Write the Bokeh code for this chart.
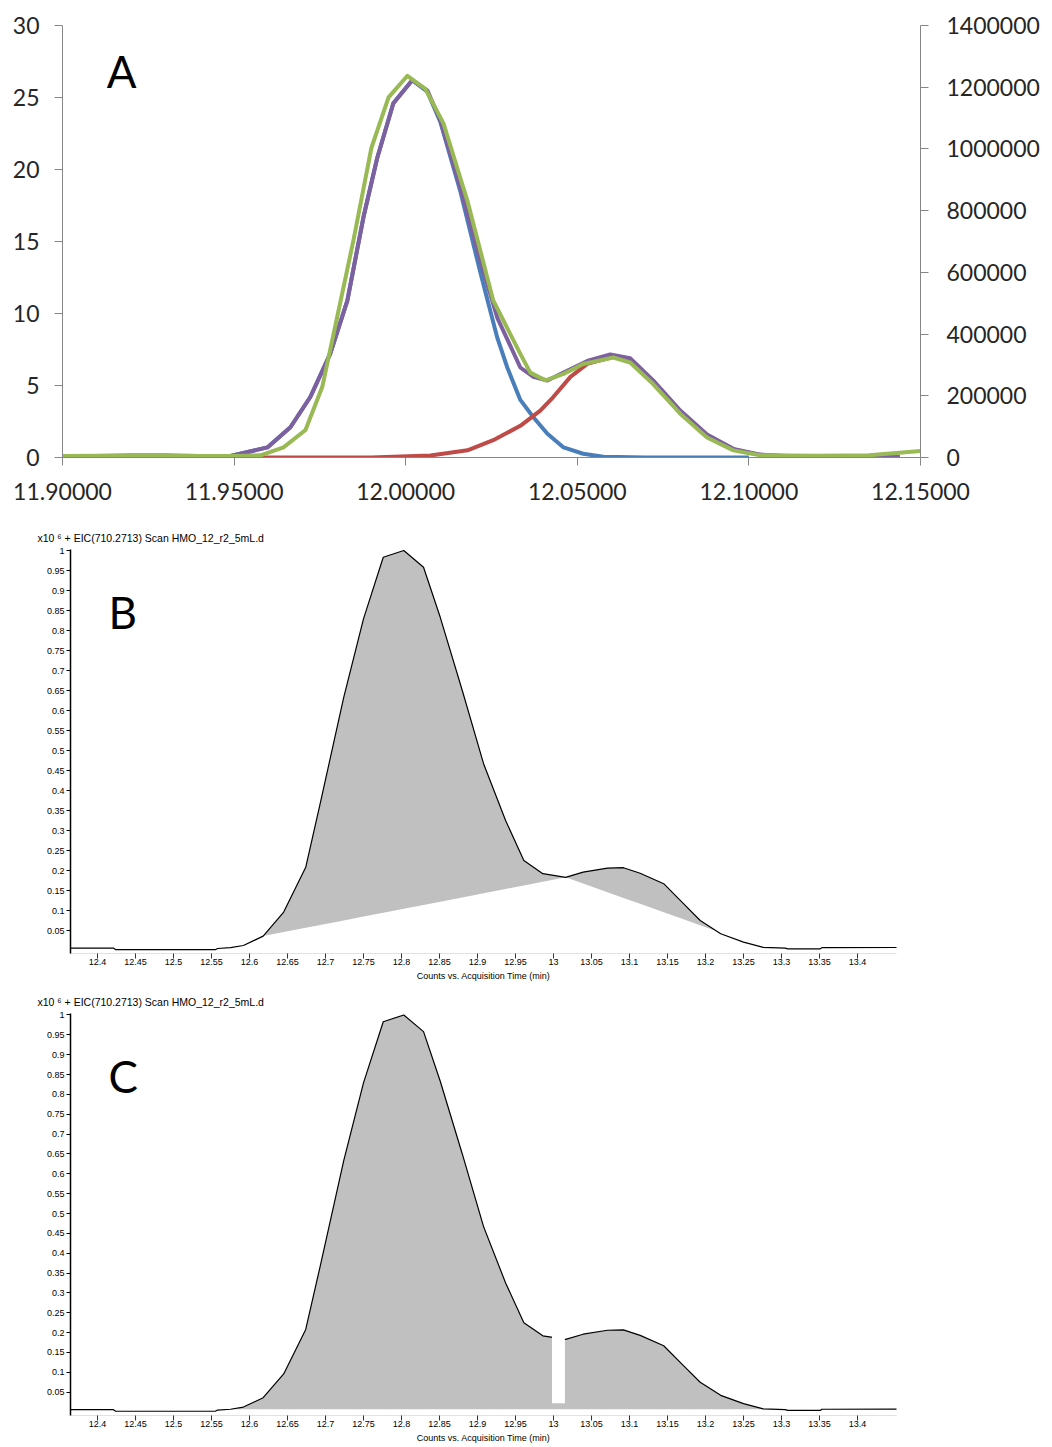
import numpy as np
from bokeh.plotting import figure
from bokeh.models import Range1d, LinearAxis, FixedTicker, NumeralTickFormatter, Label, Title
from bokeh.layouts import column
from bokeh.embed import file_html
from bokeh.resources import INLINE

# ---------------- Panel A data ----------------
a_x_ticks = [11.90, 11.95, 12.00, 12.05, 12.10, 12.15]
a_left_ticks = [0, 5, 10, 15, 20, 25, 30]
a_right_ticks = [0, 200000, 400000, 600000, 800000, 1000000, 1200000, 1400000]

blue_t = [11.948, 11.9518, 11.9597, 11.9664, 11.9722, 11.978, 11.983, 11.9877, 11.9917, 11.9964,
          12.0019, 12.0063, 12.0101, 12.0159, 12.0217, 12.0267, 12.0296, 12.0334, 12.0372, 12.0413,
          12.046, 12.0517, 12.0576, 12.07, 12.10]
blue_v = [0.05, 0.26, 0.7, 2.1, 4.2, 7.2, 10.9, 16.7, 20.8, 24.6,
          26.2, 25.4, 23.3, 18.5, 12.9, 8.3, 6.25, 4.0, 2.8, 1.65,
          0.7, 0.26, 0.05, 0.0, 0.0]

red_t = [11.958, 11.990, 12.0072, 12.018, 12.0255, 12.0334, 12.0392, 12.043, 12.048, 12.0529,
         12.0605, 12.0654, 12.0721, 12.080, 12.0878, 12.0955, 12.1033, 12.115, 12.13]
red_v = [0.0, 0.0, 0.14, 0.5, 1.2, 2.2, 3.26, 4.2, 5.6, 6.5,
         7.0, 6.75, 5.3, 3.2, 1.55, 0.55, 0.18, 0.04, 0.0]

purple_t = [11.948, 11.9518, 11.9597, 11.9664, 11.9722, 11.978, 11.983, 11.9877, 11.9917, 11.9964,
            12.0019, 12.0063, 12.0101, 12.0159, 12.0217, 12.0267, 12.0334, 12.0372, 12.0413, 12.046,
            12.0529, 12.0596, 12.0654, 12.0721, 12.080, 12.0878, 12.0955, 12.1033, 12.115, 12.13, 12.144]
purple_v = [0.05, 0.26, 0.7, 2.1, 4.2, 7.2, 10.9, 16.7, 20.8, 24.6,
            26.2, 25.5, 23.4, 18.75, 13.7, 9.7, 6.25, 5.6, 5.35, 5.9,
            6.7, 7.15, 6.9, 5.35, 3.26, 1.6, 0.6, 0.2, 0.06, 0.05, 0.05]

green_t = [11.900, 11.910, 11.920, 11.930, 11.940, 11.950, 11.9577, 11.9644, 11.9708, 11.9757,
           11.979, 11.9848, 11.990, 11.995, 12.0005, 12.0057, 12.011, 12.018, 12.0255, 12.0334,
           12.0363, 12.0407, 12.046, 12.0517, 12.0605, 12.0654, 12.0721, 12.080, 12.0878, 12.0955,
           12.1033, 12.12, 12.135, 12.15]
green_counts = [5000, 6000, 8000, 8000, 5000, 5000, 7000, 33000, 89000, 229000,
                401000, 705000, 1003000, 1167000, 1237000, 1195000, 1083000, 831000, 509000, 336000,
                275000, 250000, 271000, 303000, 324000, 308000, 238000, 142000, 65000, 23000,
                7000, 6000, 7000, 21000]

# ---------------- Panels B / C data (x10^6 counts) ----------------
bc_x_ticks = [12.4, 12.45, 12.5, 12.55, 12.6, 12.65, 12.7, 12.75, 12.8, 12.85, 12.9, 12.95,
              13.0, 13.05, 13.1, 13.15, 13.2, 13.25, 13.3, 13.35, 13.4]
bc_y_ticks = [0.05, 0.1, 0.15, 0.2, 0.25, 0.3, 0.35, 0.4, 0.45, 0.5, 0.55, 0.6, 0.65, 0.7,
              0.75, 0.8, 0.85, 0.9, 0.95, 1.0]

eic_t = [12.3645, 12.421, 12.424, 12.555, 12.558, 12.575, 12.592, 12.618, 12.645, 12.674,
         12.693, 12.724, 12.750, 12.776, 12.803, 12.829, 12.851, 12.880, 12.908, 12.937,
         12.961, 12.986, 13.016, 13.039, 13.071, 13.092, 13.114, 13.145, 13.171, 13.193,
         13.220, 13.250, 13.276, 13.305, 13.308, 13.351, 13.353, 13.453]
eic_v = [0.006, 0.006, 0.002, 0.002, 0.005, 0.007, 0.0125, 0.036, 0.096, 0.208,
         0.367, 0.633, 0.829, 0.983, 1.0, 0.958, 0.833, 0.65, 0.467, 0.325,
         0.225, 0.192, 0.183, 0.196, 0.206, 0.207, 0.193, 0.167, 0.117, 0.075,
         0.042, 0.021, 0.008, 0.006, 0.004, 0.004, 0.007, 0.0075]

# integration baselines in panel B (start / end times)
b_peak1 = [12.618, 13.016]
b_peak2 = [13.016, 13.215]
# panel C: integrated area and split between peaks
c_fill = [12.575, 13.276]
c_floor = 0.007
c_split = [12.998, 13.015]
c_split_floor = 0.022

title_text = "x10 \u2076  + EIC(710.2713) Scan HMO_12_r2_5mL.d"
x_title = "Counts vs. Acquisition Time (min)"

# ---------------- Panel A ----------------
AX = "#868686"
TXT = "#262626"
pa = figure(width=1048, height=515, x_range=Range1d(11.90, 12.15), y_range=Range1d(0, 30),
            output_backend="svg", toolbar_location=None, frame_align=False,
            min_border_left=62, min_border_right=128, min_border_top=25, min_border_bottom=58)
pa.extra_y_ranges = {"counts": Range1d(0, 1400000)}
pa.add_layout(LinearAxis(y_range_name="counts"), "right")
pa.xgrid.visible = False
pa.ygrid.visible = False
pa.outline_line_color = None
for ax in pa.axis:
    ax.axis_line_color = AX
    ax.axis_line_width = 1
    ax.major_tick_line_color = AX
    ax.major_tick_in = 0
    ax.major_tick_out = 8
    ax.minor_tick_line_color = None
    ax.major_label_text_font = "Lato"
    ax.major_label_text_font_size = "23px"
    ax.major_label_text_color = TXT
pa.xaxis.ticker = FixedTicker(ticks=a_x_ticks)
pa.xaxis.formatter = NumeralTickFormatter(format="0.00000")
pa.xaxis.major_label_standoff = 17
pa.yaxis[0].ticker = FixedTicker(ticks=a_left_ticks)
pa.yaxis[0].formatter = NumeralTickFormatter(format="0")
pa.yaxis[0].major_label_standoff = 15
pa.yaxis[1].ticker = FixedTicker(ticks=a_right_ticks)
pa.yaxis[1].formatter = NumeralTickFormatter(format="0")
pa.yaxis[1].major_label_standoff = 18

lw = 4
pa.line(blue_t, blue_v, line_color="#4A7EBB", line_width=lw, line_join="round")
pa.line(red_t, red_v, line_color="#BE4B48", line_width=lw, line_join="round")
pa.line(purple_t, purple_v, line_color="#7D60A0", line_width=lw, line_join="round")
pa.line(green_t, green_counts, line_color="#98B954", line_width=lw, line_join="round",
        y_range_name="counts")
pa.add_layout(Label(x=11.9129, y=26.85, text="A", text_font="Lato", text_font_size="44px",
                    text_color="black", text_baseline="middle", text_align="left"))


# ---------------- Panels B and C ----------------
def eic_figure(y0, y1, top, plot_h, bottom):
    p = figure(width=906, height=top + plot_h + bottom,
               x_range=Range1d(12.3645, 13.4513), y_range=Range1d(y0, y1),
               output_backend="svg", toolbar_location=None, frame_align=False,
               min_border_left=70, min_border_right=10, min_border_top=top, min_border_bottom=bottom)
    p.xgrid.visible = False
    p.ygrid.visible = False
    p.outline_line_color = None
    p.background_fill_color = "white"
    p.add_layout(Title(text=title_text, align="left", offset=-33, standoff=12,
                       text_font="Liberation Sans", text_font_size="10.5px",
                       text_font_style="normal", text_color="black"), "above")
    xa = p.xaxis[0]
    xa.ticker = FixedTicker(ticks=bc_x_ticks)
    xa.formatter = NumeralTickFormatter(format="0.[00]")
    xa.axis_line_color = "#e2e2e2"
    xa.major_tick_line_color = "#333333"
    xa.major_tick_in = 0
    xa.major_tick_out = 5
    xa.minor_tick_line_color = None
    xa.major_label_standoff = 0
    xa.major_label_text_font = "Liberation Sans"
    xa.major_label_text_font_size = "9px"
    xa.major_label_text_color = "black"
    xa.axis_label = x_title
    xa.axis_label_text_font = "Liberation Sans"
    xa.axis_label_text_font_size = "9px"
    xa.axis_label_text_font_style = "normal"
    xa.axis_label_text_color = "black"
    xa.axis_label_standoff = 3
    ya = p.yaxis[0]
    ya.ticker = FixedTicker(ticks=bc_y_ticks)
    ya.formatter = NumeralTickFormatter(format="0.[00]")
    ya.axis_line_color = "black"
    ya.axis_line_width = 1.5
    ya.major_tick_line_color = "black"
    ya.major_tick_in = 0
    ya.major_tick_out = 4
    ya.minor_tick_line_color = None
    ya.major_label_standoff = 2
    ya.major_label_text_font = "Liberation Sans"
    ya.major_label_text_font_size = "9px"
    ya.major_label_text_color = "black"
    return p


et = np.array(eic_t)
ev = np.array(eic_v)


def span_pts(t0, t1):
    inner = et[(et > t0) & (et < t1)]
    xs = np.concatenate([[t0], inner, [t1]])
    return xs, np.interp(xs, et, ev)


FILL = "#c0c0c0"

pb = eic_figure(-0.0075, 1.0025, 34, 404, 34)
for seg in (b_peak1, b_peak2):
    xs, top = span_pts(seg[0], seg[1])
    base = np.interp(xs, seg, np.interp(seg, et, ev))
    pb.varea(x=xs, y1=base, y2=top, fill_color=FILL)
pb.line(eic_t, eic_v, line_color="black", line_width=1.2)
pb.add_layout(Label(x=12.4145, y=0.8475, text="B", text_font="Lato", text_font_size="44px",
                    text_color="black", text_baseline="middle", text_align="left"))

pc = eic_figure(-0.00875, 1.00375, 25, 405, 28)
xs, top = span_pts(c_fill[0], c_fill[1])
pc.varea(x=xs, y1=np.full_like(xs, c_floor), y2=top, fill_color=FILL)
pc.line(eic_t, eic_v, line_color="black", line_width=1.2)
gx, gtop = span_pts(c_split[0], c_split[1])
pc.varea(x=gx, y1=np.full_like(gx, c_split_floor), y2=gtop + 0.01, fill_color="white")
pc.add_layout(Label(x=12.4145, y=0.846, text="C", text_font="Lato", text_font_size="44px",
                    text_color="black", text_baseline="middle", text_align="left"))

layout = column(pa, pb, pc, spacing=0)
open("out.html", "w").write(file_html(layout, INLINE))
